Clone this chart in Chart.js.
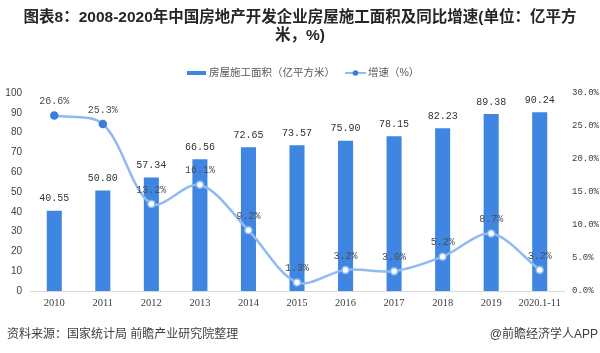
<!DOCTYPE html>
<html>
<head>
<meta charset="utf-8">
<script src="https://cdn.jsdelivr.net/npm/chart.js@4/dist/chart.umd.min.js"></script>
<style>
  html, body { margin: 0; padding: 0; background: #fff; }
  #wrap { width: 600px; height: 353px; position: relative; }
</style>
</head>
<body>
<div id="wrap"><canvas id="chart" width="600" height="353"></canvas></div>
<script>
// data
var years = ["2010", "2011", "2012", "2013", "2014", "2015", "2016", "2017", "2018", "2019", "2020.1-11"];
var area = [40.55, 50.80, 57.34, 66.56, 72.65, 73.57, 75.90, 78.15, 82.23, 89.38, 90.24];
var growth = [26.6, 25.3, 13.2, 16.1, 9.2, 1.3, 3.2, 3.0, 5.2, 8.7, 3.2];
var titleLines = ["图表8：2008-2020年中国房地产开发企业房屋施工面积及同比增速(单位：亿平方", "米，%)"];
var seriesNames = ["房屋施工面积（亿平方米）", "增速（%）"];
var sourceText = "资料来源：国家统计局 前瞻产业研究院整理";
var brandText = "@前瞻经济学人APP";

var BAR_COLOR = "#3f86e2";
var LINE_COLOR = "#8fbaf3";
var DOT_COLOR = "#3b7ddd";
var CJK = "'Liberation Sans', 'Noto Sans CJK SC', sans-serif";

// title, legend, footer and value labels
var overlay = {
  id: "overlay",
  afterDatasetsDraw: function (chart) {
    var ctx = chart.ctx;
    ctx.save();
    ctx.textAlign = "center";
    ctx.textBaseline = "middle";

    // bar values
    ctx.font = "10px 'Liberation Mono', monospace";
    ctx.fillStyle = "#333333";
    chart.getDatasetMeta(0).data.forEach(function (el, i) {
      ctx.fillText(area[i].toFixed(2), el.x, el.y - 12);
    });

    // growth values
    ctx.fillStyle = "#4d4d4d";
    chart.getDatasetMeta(1).data.forEach(function (el, i) {
      ctx.fillText(growth[i].toFixed(1) + "%", el.x, el.y - 14);
    });
    ctx.restore();
  },
  afterDraw: function (chart) {
    var ctx = chart.ctx;
    ctx.save();
    ctx.textBaseline = "middle";

    // title
    ctx.fillStyle = "#262626";
    ctx.textAlign = "center";
    ctx.font = "bold 15.5px " + CJK;
    ctx.fillText(titleLines[0], 300, 18);
    ctx.fillText(titleLines[1], 300, 36);

    // legend
    ctx.textAlign = "left";
    ctx.font = "10.5px " + CJK;
    ctx.fillStyle = BAR_COLOR;
    ctx.fillRect(187, 71, 19, 4);
    ctx.fillStyle = "#595959";
    ctx.fillText(seriesNames[0], 209, 73);

    ctx.strokeStyle = LINE_COLOR;
    ctx.lineWidth = 2;
    ctx.beginPath();
    ctx.moveTo(345, 73);
    ctx.lineTo(366, 73);
    ctx.stroke();
    ctx.fillStyle = DOT_COLOR;
    ctx.beginPath();
    ctx.arc(355.5, 73, 2.8, 0, Math.PI * 2);
    ctx.fill();
    ctx.fillStyle = "#595959";
    ctx.fillText(seriesNames[1], 368, 73);

    // footer
    ctx.font = "12px " + CJK;
    ctx.fillStyle = "#404040";
    ctx.fillText(sourceText, 7, 335);
    ctx.textAlign = "right";
    ctx.fillText(brandText, 598, 335);
    ctx.restore();
  }
};

var ctx = document.getElementById("chart").getContext("2d");
new Chart(ctx, {
  type: "bar",
  data: {
    labels: years,
    datasets: [
      {
        type: "bar",
        label: seriesNames[0],
        data: area,
        yAxisID: "y",
        backgroundColor: BAR_COLOR,
        barPercentage: 0.31,
        categoryPercentage: 1,
        order: 2
      },
      {
        type: "line",
        label: seriesNames[1],
        data: growth,
        yAxisID: "y1",
        borderColor: LINE_COLOR,
        borderWidth: 2.5,
        tension: 0.32,
        pointRadius: 3.5,
        pointBorderWidth: 1.5,
        pointBackgroundColor: growth.map(function (v, i) { return i < 2 ? DOT_COLOR : "#ffffff"; }),
        pointBorderColor: growth.map(function (v, i) { return i < 2 ? DOT_COLOR : LINE_COLOR; }),
        order: 1
      }
    ]
  },
  options: {
    responsive: false,
    animation: false,
    layout: { padding: { top: 93, bottom: 42, left: 0, right: 0 } },
    plugins: {
      legend: { display: false },
      title: { display: false },
      tooltip: { enabled: false }
    },
    scales: {
      x: {
        grid: { display: false, drawTicks: false },
        border: { display: true, color: "#d9d9d9", width: 1 },
        ticks: {
          color: "#404040",
          padding: 6,
          maxRotation: 0,
          autoSkip: false,
          font: { family: "'Liberation Serif', serif", size: 10.5 }
        },
        afterFit: function (scale) { scale.height = 20; }
      },
      y: {
        position: "left",
        min: 0,
        max: 100,
        grid: { display: false, drawTicks: false },
        border: { display: false },
        ticks: {
          stepSize: 10,
          color: "#404040",
          padding: 8,
          font: { family: "'Liberation Sans', sans-serif", size: 10 }
        },
        afterFit: function (scale) { scale.width = 30; }
      },
      y1: {
        position: "right",
        min: 0,
        max: 30,
        grid: { display: false, drawTicks: false },
        border: { display: false },
        ticks: {
          stepSize: 5,
          color: "#404040",
          padding: 8,
          font: { family: "'Liberation Mono', monospace", size: 9 },
          callback: function (v) { return v.toFixed(1) + "%"; }
        },
        afterFit: function (scale) { scale.width = 36; }
      }
    }
  },
  plugins: [overlay]
});
</script>
</body>
</html>
